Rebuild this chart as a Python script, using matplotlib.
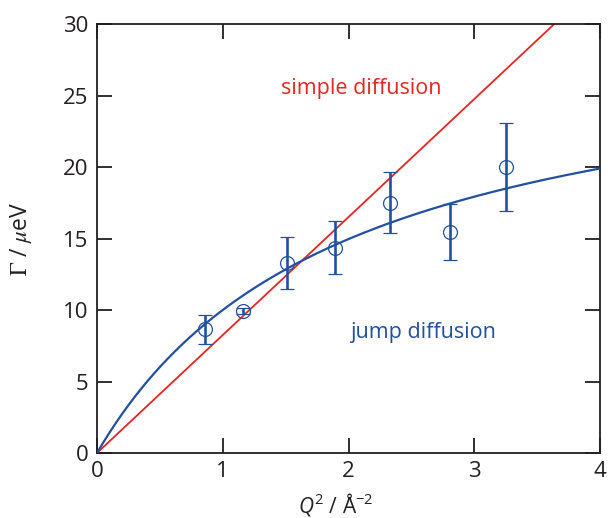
import matplotlib

matplotlib.use("Agg")
import matplotlib.pyplot as plt
import numpy as np

# measured QENS linewidths
q2 = [0.86, 1.16, 1.51, 1.89, 2.33, 2.81, 3.25]
gamma = [8.65, 9.95, 13.3, 14.35, 17.5, 15.45, 20.0]
gamma_err = [1.0, 0.2, 1.8, 1.85, 2.15, 1.95, 3.1]

# model parameters
simple_slope = 8.25  # ueV A^2
jump_a = 15.08  # ueV A^2
jump_b = 0.508  # A^2

x_ticks = [0, 1, 2, 3, 4]
y_ticks = [0, 5, 10, 15, 20, 25, 30]

RED = "#e52521"
BLUE = "#2150a0"
INK = "#231f20"

plt.rcParams.update(
    {
        "font.family": ["Open Sans", "DejaVu Sans"],
        "mathtext.fontset": "custom",
        "mathtext.rm": "Open Sans",
        "mathtext.it": "Open Sans:italic",
    }
)

fig = plt.figure(figsize=(6.08, 5.18), dpi=100)
ax = fig.add_axes([97 / 608, 1 - 453 / 518, 503 / 608, 429 / 518])

xs = np.linspace(0, 4, 400)
ax.plot([0, 4], [0, simple_slope * 4], color=RED, lw=1.3, zorder=2)
ax.plot(xs, jump_a * xs / (1 + jump_b * xs), color=BLUE, lw=1.6, zorder=3)
ax.errorbar(
    q2,
    gamma,
    yerr=gamma_err,
    fmt="o",
    mfc="none",
    mec=BLUE,
    ms=10,
    mew=0.9,
    ecolor=BLUE,
    elinewidth=1.9,
    capsize=4.8,
    capthick=1.9,
    zorder=4,
)

ax.text(2.1, 25.5, "simple diffusion", color=RED, fontsize=15.5, ha="center", va="center")
ax.text(2.59, 8.4, "jump diffusion", color=BLUE, fontsize=15.5, ha="center", va="center")

ax.set_xlim(0, 4)
ax.set_ylim(0, 30)
ax.set_xticks(x_ticks)
ax.set_yticks(y_ticks)
ax.tick_params(
    direction="in", length=10.5, width=1.3, color=INK, labelsize=16, pad=6,
    top=True, right=True, labelcolor=INK,
)
for s in ax.spines.values():
    s.set_color(INK)
    s.set_linewidth(1.3)

ax.set_xlabel(r"$Q^2$ / Å$^{-2}$", fontsize=15, color=INK)
ax.set_ylabel(r"$\Gamma$ / $\mu$eV", fontsize=16.5, color=INK, math_fontfamily="stix")
ax.xaxis.set_label_coords(0.475, -0.088)
ax.yaxis.set_label_coords(-0.125, 0.5)

fig.savefig("out.png", dpi=100)
